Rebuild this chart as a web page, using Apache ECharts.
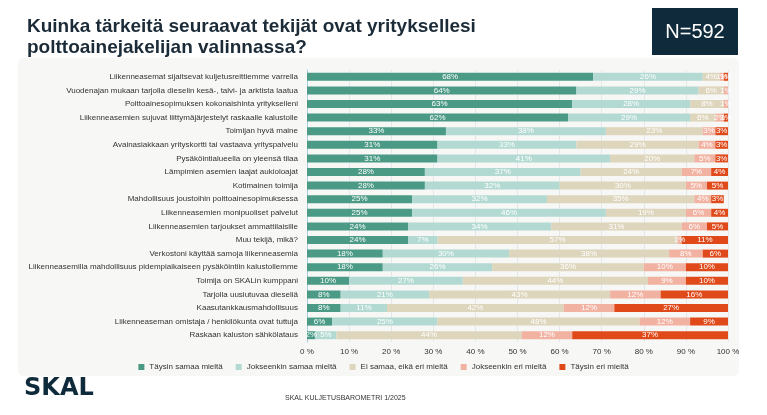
<!DOCTYPE html>
<html><head><meta charset="utf-8">
<script src="https://cdn.jsdelivr.net/npm/echarts@6/dist/echarts.min.js"></script>
<style>html,body{margin:0;padding:0;background:#fff}#c{width:767px;height:415px}</style>
</head><body><div id="c"></div>
<script>
const categories = [
 "Liikenneasemat sijaitsevat kuljetusreittiemme varrella",
 "Vuodenajan mukaan tarjolla dieselin kesä-, talvi- ja arktista laatua",
 "Polttoainesopimuksen kokonaishinta yritykselleni",
 "Liikenneasemien sujuvat liittymäjärjestelyt raskaalle kalustolle",
 "Toimijan hyvä maine",
 "Avainasiakkaan yrityskortti tai vastaava yrityspalvelu",
 "Pysäköintialueella on yleensä tilaa",
 "Lämpimien asemien laajat aukioloajat",
 "Kotimainen toimija",
 "Mahdollisuus joustoihin polttoainesopimuksessa",
 "Liikenneasemien monipuoliset palvelut",
 "Liikenneasemien tarjoukset ammattilaisille",
 "Muu tekijä, mikä?",
 "Verkostoni käyttää samoja liikenneasemia",
 "Liikenneasemilla mahdollisuus pidempiaikaiseen pysäköintiin kalustollemme",
 "Toimija on SKALin kumppani",
 "Tarjolla uusiutuvaa dieseliä",
 "Kaasutankkausmahdollisuus",
 "Liikenneaseman omistaja / henkilökunta ovat tuttuja",
 "Raskaan kaluston sähkölataus"
];
const seriesNames = ["Täysin samaa mieltä","Jokseenkin samaa mieltä","Ei samaa, eikä eri mieltä","Jokseenkin eri mieltä","Täysin eri mieltä"];
const taysinSamaa     = [68,64,63,62,33,31,31,28,28,25,25,24,24,18,18,10,8,8,6,2];
const jokseenkinSamaa = [26,29,28,29,38,33,41,37,32,32,46,34,7,30,26,27,21,11,25,5];
const eiSamaaEiEri    = [4,6,8,6,23,29,20,24,30,35,19,31,57,38,36,44,43,42,48,44];
const jokseenkinEri   = [1,1,1,2,3,4,5,7,5,4,6,6,1,8,10,9,12,12,12,12];
const taysinEri       = [1,0,0,1,3,3,3,4,5,3,4,5,11,6,10,10,16,27,9,37];
const xTicks = [0,10,20,30,40,50,60,70,80,90,100];
const colors = ["#4a9a85","#b3dad2","#ddd5bc","#f2b2a2","#e04a1b"];
const allValues = [taysinSamaa,jokseenkinSamaa,eiSamaaEiEri,jokseenkinEri,taysinEri];

const chart = echarts.init(document.getElementById('c'));
const FF = "'Liberation Sans', Arial, sans-serif";
chart.setOption({
  animation:false,
  textStyle:{fontFamily:FF},
  graphic:[
    {type:'rect',z:-10,shape:{x:18,y:58,width:721,height:318,r:6},style:{fill:'#f7f7f6'}},
    {type:'text',left:27,top:16,style:{text:'Kuinka tärkeitä seuraavat tekijät ovat yrityksellesi\npolttoainejakelijan valinnassa?',font:"bold 19px 'Liberation Sans', Arial, sans-serif",fill:'#1b2b38',lineHeight:21}},
    {type:'rect',shape:{x:652,y:8,width:86,height:47},style:{fill:'#0e2a3b'}},
    {type:'text',x:695,y:32,style:{text:'N=592',font:"20px 'Liberation Sans', Arial, sans-serif",fill:'#ffffff',align:'center',verticalAlign:'middle'}},
    {type:'text',x:24,y:377,style:{text:'SKAL',font:"900 24px 'DejaVu Sans', sans-serif",fill:'#0e2a3b'}},
    {type:'text',x:285,y:395,style:{text:'SKAL KULJETUSBAROMETRI 1/2025',font:"7px 'Liberation Sans', Arial, sans-serif",fill:'#333'}}
  ],
  legend:{
    data:seriesNames, bottom:39, left:'center', itemWidth:6, itemHeight:6, itemGap:13,
    icon:'rect', textStyle:{fontSize:8,color:'#333',fontFamily:FF}
  },
  grid:{left:307,right:39,top:70,bottom:73},
  xAxis:{
    type:'value', min:0, max:100, interval:10,
    axisLabel:{formatter: v => xTicks.includes(v) ? v+' %' : '', fontSize:8, color:'#333', margin:6},
    splitLine:{lineStyle:{color:'#e2e8ec'}},
    axisLine:{show:false}
  },
  yAxis:{
    type:'category', data:categories, inverse:true,
    axisLabel:{fontSize:8, color:'#333', margin:9},
    axisLine:{lineStyle:{color:'#a9cde0'}},
    axisTick:{lineStyle:{color:'#a9cde0'}, length:3}
  },
  series: seriesNames.map((n,i)=>({
    name:n, type:'bar', stack:'all', barWidth:8,
    itemStyle:{color:colors[i]},
    data: allValues[i],
    label:{show:true, position:'inside', fontSize:8, color:'#fff',
      formatter: p => p.value>0 ? p.value+'%' : ''}
  }))
});
</script></body></html>
